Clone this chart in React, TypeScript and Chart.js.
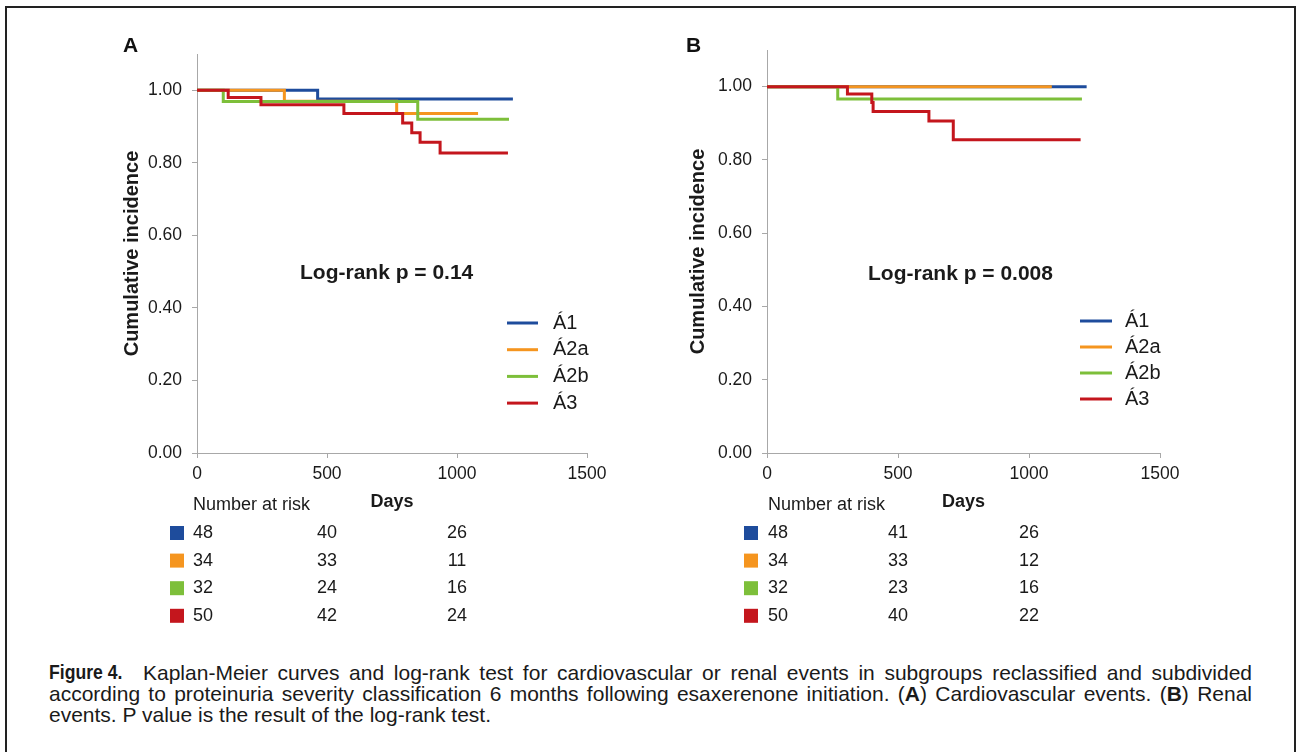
import React, { useEffect, useRef } from "react";
import { Chart, registerables } from "chart.js";

Chart.register(...registerables);

const FONT = '"Liberation Sans", Arial, Helvetica, sans-serif';
const TXT = "#1a1a1a";
const AXIS = "#a8a8a8";

const seriesLabels = ["Á1", "Á2a", "Á2b", "Á3"];
const seriesColors = ["#1E4C9C", "#F5951F", "#7DBF3A", "#C4161D"];
const drawOrder = [4, 3, 2, 1];

const xTicks = [0, 500, 1000, 1500];
const yTicks = [0, 0.2, 0.4, 0.6, 0.8, 1.0];
const riskDays = [0, 500, 1000];

// Panel A: cardiovascular events (step points: day, cumulative value)
const cvA1Days = [0, 464, 1215];
const cvA1Vals = [1.0, 0.976, 0.976];
const cvA2aDays = [0, 336, 768, 1081];
const cvA2aVals = [1.0, 0.97, 0.936, 0.936];
const cvA2bDays = [0, 101, 849, 1200];
const cvA2bVals = [1.0, 0.969, 0.92, 0.92];
const cvA3Days = [0, 120, 246, 565, 791, 826, 858, 935, 1196];
const cvA3Vals = [1.0, 0.98, 0.96, 0.936, 0.91, 0.883, 0.857, 0.827, 0.827];

// Panel B: renal events
const rnA1Days = [0, 1220];
const rnA1Vals = [1.0, 1.0];
const rnA2aDays = [0, 1087];
const rnA2aVals = [1.0, 1.0];
const rnA2bDays = [0, 270, 1202];
const rnA2bVals = [1.0, 0.966, 0.966];
const rnA3Days = [0, 307, 400, 405, 618, 711, 1197];
const rnA3Vals = [1.0, 0.98, 0.957, 0.932, 0.906, 0.855, 0.855];

// Number at risk (day 0, 500, 1000)
const riskA1 = [48, 40, 26];
const riskA2a = [34, 33, 11];
const riskA2b = [32, 24, 16];
const riskA3 = [50, 42, 24];
const riskB1 = [48, 41, 26];
const riskB2a = [34, 33, 12];
const riskB2b = [32, 23, 16];
const riskB3 = [50, 40, 22];

const kmExtras = {
  id: "kmExtras",
  afterDraw(chart: any, _args: any, o: any) {
    const ctx = chart.ctx;
    const x = chart.scales.x;
    ctx.save();
    ctx.textBaseline = "middle";
    // legend
    ctx.font = `20px ${FONT}`;
    seriesLabels.forEach((lab, i) => {
      const y = o.legY + i * o.legDy;
      ctx.strokeStyle = seriesColors[i];
      ctx.lineWidth = 3;
      ctx.beginPath();
      ctx.moveTo(o.legX1, y);
      ctx.lineTo(o.legX2, y);
      ctx.stroke();
      ctx.fillStyle = TXT;
      ctx.textAlign = "left";
      ctx.fillText(lab, o.legTx, y);
    });
    // number at risk
    const x0 = x.getPixelForValue(0);
    ctx.font = `18px ${FONT}`;
    ctx.fillStyle = TXT;
    ctx.textAlign = "left";
    ctx.fillText("Number at risk", x0 + o.riskOff, o.riskHeadY);
    (o.risk as number[][]).forEach((row, i) => {
      const y = o.riskY + i * o.riskDy;
      ctx.fillStyle = seriesColors[i];
      ctx.fillRect(x0 + o.sqOff, y - 7, 14, 14);
      ctx.fillStyle = TXT;
      row.forEach((n, k) => {
        if (k === 0) {
          ctx.textAlign = "left";
          ctx.fillText(String(n), x0 + o.riskOff, y);
        } else {
          ctx.textAlign = "center";
          ctx.fillText(String(n), x.getPixelForValue(riskDays[k]), y);
        }
      });
    });
    ctx.restore();
  },
};

type PanelCfg = {
  days: number[][];
  vals: number[][];
  risk: number[][];
  padding: { left: number; right: number; top: number; bottom: number };
  yWidth: number;
  extras: any;
};

const panelA: PanelCfg = {
  days: [cvA1Days, cvA2aDays, cvA2bDays, cvA3Days],
  vals: [cvA1Vals, cvA2aVals, cvA2bVals, cvA3Vals],
  risk: [riskA1, riskA2a, riskA2b, riskA3],
  padding: { left: 120, right: 61, top: 54, bottom: 127 },
  yWidth: 77,
  extras: { legX1: 507, legX2: 538, legTx: 553, legY: 323, legDy: 26.7, riskOff: -4, sqOff: -27, riskHeadY: 505, riskY: 533, riskDy: 27.6 },
};

const panelB: PanelCfg = {
  days: [rnA1Days, rnA2aDays, rnA2bDays, rnA3Days],
  vals: [rnA1Vals, rnA2aVals, rnA2bVals, rnA3Vals],
  risk: [riskB1, riskB2a, riskB2b, riskB3],
  padding: { left: 38, right: 137, top: 50, bottom: 127 },
  yWidth: 81,
  extras: { legX1: 432, legX2: 464, legTx: 477, legY: 321, legDy: 26, riskOff: 1, sqOff: -23, riskHeadY: 505, riskY: 533, riskDy: 27.6 },
};

function buildChart(canvas: HTMLCanvasElement, p: PanelCfg) {
  return new Chart(canvas, {
    type: "line",
    data: {
      datasets: p.days.map((d, i) => ({
        label: seriesLabels[i],
        data: d.map((day, k) => ({ x: day, y: p.vals[i][k] })),
        borderColor: seriesColors[i],
        backgroundColor: seriesColors[i],
        borderWidth: 3,
        pointRadius: 0,
        pointHoverRadius: 0,
        stepped: true,
        fill: false,
        order: drawOrder[i],
      })),
    },
    options: {
      animation: false,
      responsive: false,
      events: [],
      layout: { padding: p.padding },
      font: { family: FONT },
      scales: {
        x: {
          type: "linear",
          min: 0,
          max: 1500,
          afterBuildTicks: (s: any) => {
            s.ticks = xTicks.map((v) => ({ value: v }));
          },
          afterFit: (s: any) => {
            s.height = 60;
          },
          grid: { drawOnChartArea: false, tickLength: 5, color: AXIS },
          border: { color: AXIS, width: 1 },
          ticks: { padding: 6, color: TXT, font: { family: FONT, size: 17.5 }, maxRotation: 0, callback: (v: any) => String(v) },
          title: { display: true, text: "Days", color: TXT, font: { family: FONT, size: 18, weight: "bold" }, padding: 0 },
        },
        y: {
          type: "linear",
          min: 0,
          max: 1.1,
          afterBuildTicks: (s: any) => {
            s.ticks = yTicks.map((v) => ({ value: v }));
          },
          afterFit: (s: any) => {
            s.width = p.yWidth;
          },
          grid: { drawOnChartArea: false, tickLength: 5, color: AXIS },
          border: { color: AXIS, width: 1 },
          ticks: { padding: 10, color: TXT, font: { family: FONT, size: 17.5 }, callback: (v: any) => Number(v).toFixed(2) },
          title: { display: true, text: "Cumulative incidence", color: TXT, font: { family: FONT, size: 20, weight: "bold" }, padding: { top: 0, bottom: 0, y: 0 } },
        },
      },
      plugins: {
        legend: { display: false },
        tooltip: { enabled: false },
        kmExtras: { ...p.extras, risk: p.risk },
      },
    } as any,
    plugins: [kmExtras as any],
  });
}

function Panel({ cfg, left, width }: { cfg: PanelCfg; left: number; width: number }) {
  const ref = useRef<HTMLCanvasElement>(null);
  useEffect(() => {
    if (!ref.current) return;
    const c = buildChart(ref.current, cfg);
    return () => c.destroy();
  }, [cfg]);
  return (
    <canvas
      ref={ref}
      width={width}
      height={640}
      style={{ position: "absolute", left, top: 0, width, height: 640 }}
    />
  );
}

const abs = (l: number, t: number, extra: React.CSSProperties = {}): React.CSSProperties => ({
  position: "absolute",
  left: l,
  top: t,
  whiteSpace: "nowrap",
  ...extra,
});

export default function App() {
  const capFont: React.CSSProperties = { fontFamily: FONT, fontSize: 21, lineHeight: "21px", color: TXT };
  return (
    <div style={{ position: "absolute", left: 0, top: 0, width: 1297, height: 752, overflow: "hidden", background: "#fff", fontFamily: FONT }}>
      <div style={{ position: "absolute", left: 5, top: 6, width: 1291, height: 760, boxSizing: "border-box", borderTop: "2px solid #222", borderLeft: "2px solid #222", borderRight: "2px solid #222" }} />
      <Panel cfg={panelA} left={0} width={648} />
      <Panel cfg={panelB} left={648} width={649} />
      <div style={abs(123, 32, { fontSize: 21, fontWeight: "bold", lineHeight: "26px", color: "#111" })}>A</div>
      <div style={abs(686, 32, { fontSize: 21, fontWeight: "bold", lineHeight: "26px", color: "#111" })}>B</div>
      <div style={abs(300, 259, { fontSize: 21, fontWeight: "bold", lineHeight: "26px", color: TXT })}>Log-rank p = 0.14</div>
      <div style={abs(868, 260, { fontSize: 21, fontWeight: "bold", lineHeight: "26px", color: TXT })}>Log-rank p = 0.008</div>
      <div style={abs(49, 662, { ...capFont, fontSize: 20, fontWeight: "bold", transform: "scaleX(0.88)", transformOrigin: "left center" })}>Figure 4.</div>
      <div style={abs(143, 662, { ...capFont, width: 1109, whiteSpace: "normal", textAlign: "justify", textAlignLast: "justify" })}>
        Kaplan-Meier curves and log-rank test for cardiovascular or renal events in subgroups reclassified and subdivided
      </div>
      <div style={abs(49, 683, { ...capFont, width: 1203, whiteSpace: "normal", textAlign: "justify", textAlignLast: "justify" })}>
        according to proteinuria severity classification 6 months following esaxerenone initiation. (<b>A</b>) Cardiovascular events. (<b>B</b>) Renal
      </div>
      <div style={abs(49, 704, { ...capFont })}>events. P value is the result of the log-rank test.</div>
    </div>
  );
}
